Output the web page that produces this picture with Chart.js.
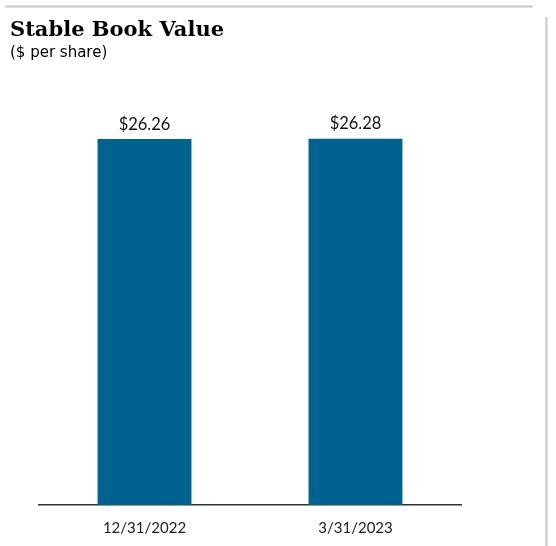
<!DOCTYPE html>
<html>
<head>
<meta charset="utf-8">
<style>
html,body{margin:0;padding:0;background:#fff;}
#wrap{position:relative;width:556px;height:546px;}
canvas{display:block;}
</style>
<script src="https://cdn.jsdelivr.net/npm/chart.js@4/dist/chart.umd.min.js"></script>
</head>
<body>
<div id="wrap"><canvas id="c" width="556" height="546"></canvas></div>
<script>
const categories = ["12/31/2022", "3/31/2023"];
const bookValues = [26.26, 26.28];
const valueLabels = ["$26.26", "$26.28"];
const titleText = "Stable Book Value";
const subtitleText = "($ per share)";

const decor = {
  id: 'decor',
  beforeDraw(chart) {
    const ctx = chart.ctx;
    ctx.save();
    ctx.fillStyle = '#fff';
    ctx.fillRect(0, 0, chart.width, chart.height);
    ctx.strokeStyle = '#c8c8c8';
    ctx.lineWidth = 2;
    ctx.beginPath();
    ctx.moveTo(5, 6.5); ctx.lineTo(533, 6.5);
    ctx.moveTo(546.5, 17); ctx.lineTo(546.5, 546);
    ctx.stroke();
    ctx.fillStyle = '#000';
    ctx.textBaseline = 'alphabetic';
    ctx.textAlign = 'left';
    ctx.font = 'bold 21px "DejaVu Serif"';
    ctx.fillText(titleText, 10, 36);
    ctx.font = '15px "DejaVu Sans"';
    ctx.fillText(subtitleText, 10, 57);
    ctx.restore();
  },
  afterDatasetsDraw(chart) {
    const ctx = chart.ctx;
    const meta = chart.getDatasetMeta(0);
    ctx.save();
    ctx.fillStyle = '#111';
    ctx.font = '16.5px Lato';
    ctx.textAlign = 'center';
    ctx.textBaseline = 'alphabetic';
    meta.data.forEach((bar, i) => {
      ctx.fillText(valueLabels[i], bar.x, bar.y - 9.5);
    });
    ctx.restore();
  }
};

new Chart(document.getElementById('c'), {
  type: 'bar',
  data: {
    labels: categories,
    datasets: [{
      data: bookValues,
      backgroundColor: '#00628f',
      borderWidth: 0,
      categoryPercentage: 1,
      barPercentage: 0.445
    }]
  },
  options: {
    responsive: false,
    animation: false,
    devicePixelRatio: 1,
    layout: { padding: { top: 87, left: 39, right: 95, bottom: -5 } },
    plugins: { legend: { display: false }, tooltip: { enabled: false }, title: { display: false } },
    scales: {
      x: {
        grid: { display: false, drawTicks: false },
        border: { display: true, color: '#333', width: 1.5 },
        ticks: { color: '#222', font: { family: 'Lato', size: 15 }, padding: 14 }
      },
      y: {
        display: false,
        min: 0,
        max: 30
      }
    }
  },
  plugins: [decor]
});
</script>
</body>
</html>
